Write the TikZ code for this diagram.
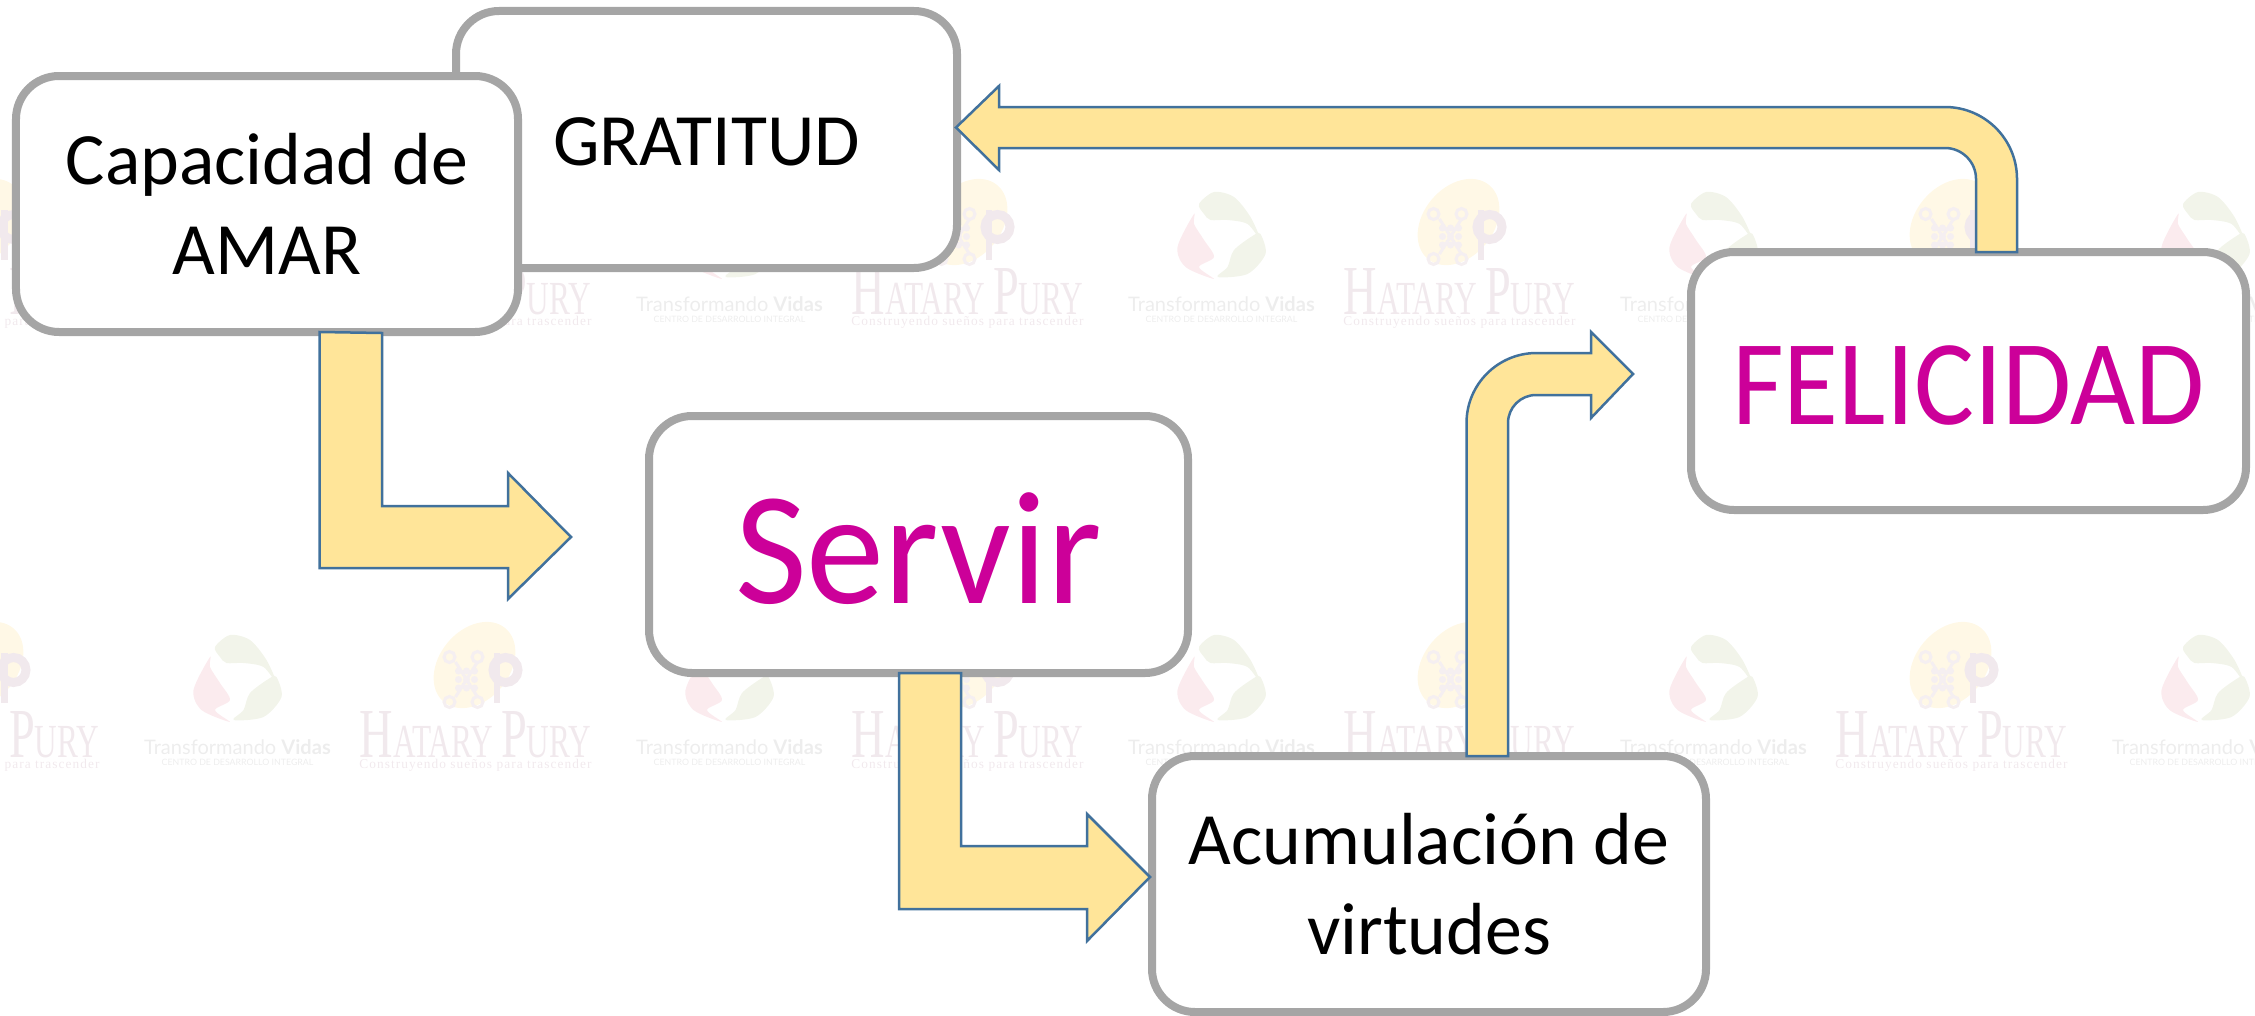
\documentclass[tikz,border=0pt]{standalone}
\usepackage{fontspec}
\setmainfont{Carlito}
\newfontfamily\serifmarca{Liberation Serif}
\newfontfamily\serifabierta[LetterSpace=8]{Liberation Serif}
\newfontfamily\sansmarca{Lato}
\usetikzlibrary{arrows}

\definecolor{bordecaja}{HTML}{A5A5A5}
\definecolor{rellenoflecha}{HTML}{FFE599}
\definecolor{bordeflecha}{HTML}{41719C}
\definecolor{magenta}{HTML}{CC0099}
\definecolor{huevo}{HTML}{FFF8E6}
\definecolor{letramarca}{HTML}{F1E9ED}
\definecolor{nudomarca}{HTML}{F5EFF1}
\definecolor{hojaverde}{HTML}{F2F4EA}
\definecolor{hojarosa}{HTML}{FBEBEE}
\definecolor{grismarca}{HTML}{EDEDED}

\tikzset{
	caja/.style={draw=bordecaja, line width=0.08cm, fill=white, rounded corners=0.43cm, outer sep=0pt, align=center, text=black, font=\fontsize{21}{25.6}\selectfont},
	flecha/.style={draw=bordeflecha, line width=0.025cm, fill=rellenoflecha, line join=miter},
	marca/.style={inner sep=0pt, outer sep=0pt}
}

\newcommand{\logoHatary}[3]{
	\begin{scope}[shift={(#2, #3)}]
		\fill[huevo, rotate around={50:(-0.01, 0.70)}] (-0.01, 0.70) ellipse (0.48 and 0.35);
		\foreach \a/\b in {-0.26/0.33, 0.02/0.33, -0.26/0.78, 0.02/0.78}
			\draw[nudomarca, line width=0.03cm] (\a, \b) circle (0.055);
		\draw[nudomarca, line width=0.03cm] (-0.2, 0.38) -- (0.02, 0.73);
		\draw[nudomarca, line width=0.03cm] (-0.2, 0.73) -- (0.02, 0.38);
		\foreach \a in {-0.17, -0.09, -0.01}
			\foreach \b in {0.47, 0.555, 0.64}
				\fill[nudomarca] (\a, \b) circle (0.035);
		\fill[letramarca] (0.18, 0.32) rectangle (0.24, 0.82);
		\draw[letramarca, line width=0.09cm] (0.30, 0.65) circle (0.125);
		\node[marca, text=letramarca] (#1a) at (0, 0) {\scalebox{0.66}[1]{\serifmarca\fontsize{20}{20}\selectfont H\fontsize{13.5}{20}\selectfont ATARY \fontsize{20}{20}\selectfont P\fontsize{13.5}{20}\selectfont URY}};
		\node[marca, text=letramarca] (#1b) at (0, -0.30) {\serifabierta\fontsize{3.8}{4}\selectfont Construyendo sueños para trascender};
	\end{scope}
}

\newcommand{\logoVidas}[3]{
	\begin{scope}[shift={(#2, #3)}]
		\fill[hojaverde] plot[smooth cycle] coordinates {(-0.225, 1.0) (-0.075, 1.12) (0.125, 1.07) (0.29, 0.87) (0.39, 0.64) (0.26, 0.8) (0.06, 0.84) (-0.11, 0.84) (-0.175, 0.9)};
		\fill[hojarosa] plot[smooth cycle] coordinates {(-0.275, 0.9) (-0.44, 0.57) (-0.36, 0.37) (-0.075, 0.25) (-0.225, 0.37) (-0.075, 0.47) (-0.175, 0.64) (-0.275, 0.8)};
		\fill[hojaverde] plot[smooth cycle] coordinates {(0.39, 0.7) (0.44, 0.5) (0.26, 0.3) (-0.04, 0.27) (0.06, 0.37) (0.125, 0.54) (0.325, 0.69)};
		\node[marca, text=grismarca] (#1a) at (0, 0) {\sansmarca\fontsize{5.7}{6}\selectfont Transformando \textbf{Vidas}};
		\node[marca, text=grismarca] (#1b) at (0, -0.15) {\sansmarca\fontsize{2.5}{3}\selectfont CENTRO DE DESARROLLO INTEGRAL};
	\end{scope}
}

\begin{document}
\begin{tikzpicture}
		\useasboundingbox (0, 0) rectangle (22.55, 10.15);

		\foreach \fila/\ya/\yb in {1/7.23/7.11, 2/2.80/2.68}
			\foreach \col in {0, 1, 2, 3, 4} {
				\logoHatary{hatary\fila\col}{\col*4.92 - 0.165}{\ya}
				\logoVidas{vidas\fila\col}{\col*4.92 + 2.375}{\yb}
			}

		\node[caja, minimum width=5.01cm, minimum height=2.57cm] (gratitud) at (7.065, 8.755) {\raisebox{-0.02cm}[\height][\depth]{GRATITUD}};
		\node[caja, minimum width=5.02cm, minimum height=2.56cm] (amar) at (2.67, 8.11) {Capacidad de\\AMAR};
		\node[caja, minimum width=5.39cm, minimum height=2.57cm, text=magenta, font=\fontsize{44.5}{50}\selectfont] (servir) at (9.185, 4.705) {\raisebox{-0.04cm}[\height][\depth]{\scalebox{1}[1.03]{Servir}}};
		\node[caja, minimum width=5.55cm, minimum height=2.58cm, text=magenta, font=\fontsize{32}{38}\selectfont] (felicidad) at (19.685, 6.34) {\raisebox{-0.04cm}[\height][\depth]{\scalebox{1}[1.08]{FELICIDAD}}};
		\node[caja, minimum width=5.54cm, minimum height=2.56cm] (acumulacion) at (14.29, 1.31) {Acumulación de\\virtudes};

		\coordinate (puntaservir) at (5.71, 4.78);
		\coordinate (puntavirtudes) at (11.50, 1.38);
		\coordinate (puntafelicidad) at (16.33, 6.41);
		\coordinate (puntagratitud) at (9.56, 8.875);

		\draw[flecha] ([xshift=0.525cm]amar.south) -- ++(0, -2.36) -- ++(1.885, 0) -- ++(0, -0.31) -- (puntaservir)
			-- ++(-0.63, 0.64) -- ++(0, -0.33) -- ++(-1.26, 0) -- ++(0, 1.73) -- cycle;
		\draw[flecha] ([xshift=-0.195cm]servir.south) -- ++(0, -2.36) -- ++(1.88, 0) -- ++(0, -0.32) -- (puntavirtudes)
			-- ++(-0.63, 0.63) -- ++(0, -0.32) -- ++(-1.26, 0) -- ++(0, 1.73) -- cycle;
		\draw[flecha] ([xshift=0.375cm]acumulacion.north) -- ++(0, 3.33) arc[start angle=180, end angle=90, radius=0.7]
			-- ++(0.545, 0) -- ++(0, 0.21) -- (puntafelicidad) -- ++(-0.42, -0.44) -- ++(0, 0.23) -- ++(-0.55, 0)
			arc[start angle=90, end angle=180, radius=0.28] -- ++(0, -3.33) -- cycle;
		\draw[flecha] ([xshift=0.075cm]felicidad.north) -- ++(0, 0.73) arc[start angle=0, end angle=90, radius=0.31]
			-- ++(-9.46, 0) -- ++(0, -0.22) -- (puntagratitud) -- ++(0.43, 0.415) -- ++(0, -0.21) -- ++(9.46, 0)
			arc[start angle=90, end angle=0, radius=0.72] -- ++(0, -0.73) -- cycle;
\end{tikzpicture}
\end{document}
